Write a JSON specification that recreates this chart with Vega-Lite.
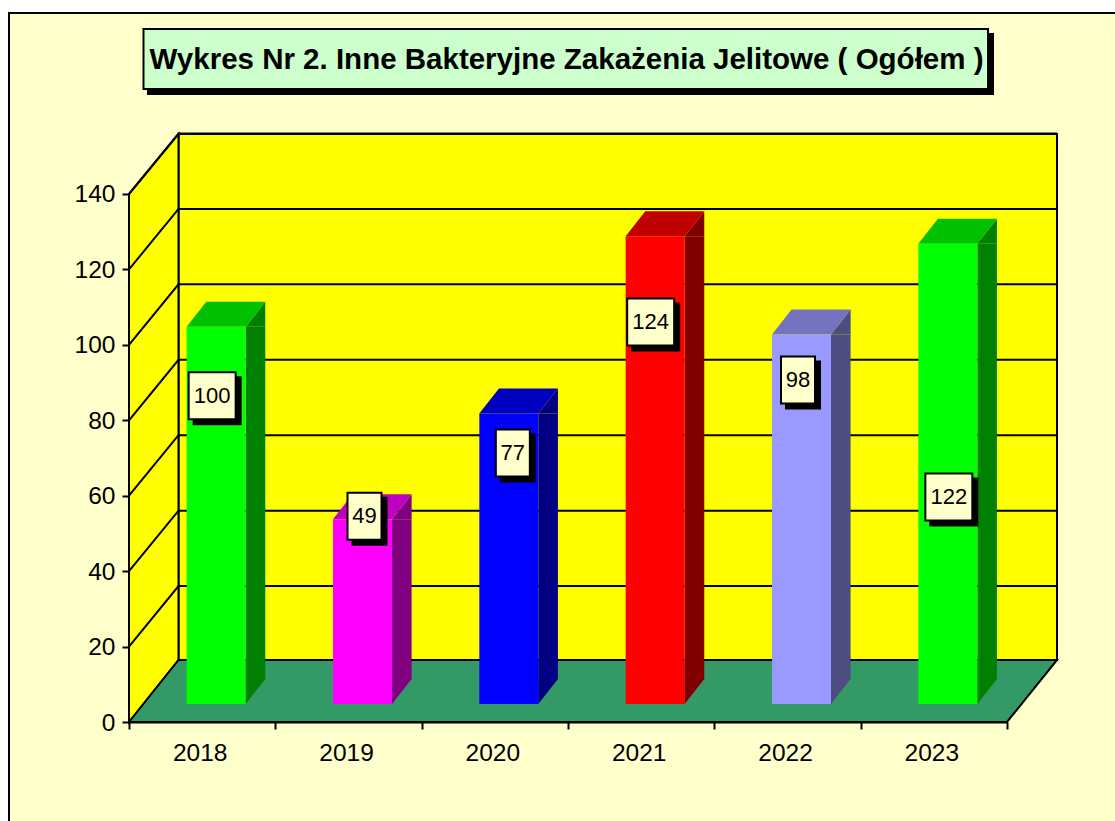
{
  "$schema": "https://vega.github.io/schema/vega-lite/v6.json",
  "width": 928,
  "height": 588,
  "autosize": {"type": "none"},
  "padding": {"left": 129, "top": 134, "right": 58, "bottom": 99},
  "background": "white",
  "config": {
    "view": {"stroke": null},
    "axis": {"labelFont": "Liberation Sans", "labelColor": "black", "tickColor": "black", "domainColor": "black", "tickWidth": 2, "domainWidth": 2, "tickSize": 7, "labelPadding": 7, "grid": false}
  },
  "datasets": {
    "frame": [{"part": "frame"}],
    "ticks": [{"tick": 20}, {"tick": 40}, {"tick": 60}, {"tick": 80}, {"tick": 100}, {"tick": 120}, {"tick": 140}],
    "bars": [
      {"year": "2018", "value": 100},
      {"year": "2019", "value": 49},
      {"year": "2020", "value": 77},
      {"year": "2021", "value": 124},
      {"year": "2022", "value": 98},
      {"year": "2023", "value": 122}
    ]
  },
  "resolve": {"scale": {"color": "independent"}},
  "layer": [
    {
      "data": {"name": "frame"},
      "mark": {"type": "point", "shape": "M-120,-709H1000V110H-120Z", "size": 4, "filled": true, "fill": "#FFFFCC", "stroke": "black", "strokeWidth": 2, "opacity": 1},
      "encoding": {
        "x": {"datum": "2018", "type": "ordinal", "bandPosition": 0, "scale": {"domain": ["2018", "2019", "2020", "2021", "2022", "2023"], "range": [0, 878], "paddingInner": 0, "paddingOuter": 0}, "axis": {"title": null, "labelAngle": 0, "labelFontSize": 24.5, "tickBand": "extent", "labelPadding": 12, "labelOffset": -2.5, "zindex": 1}},
        "y": {"datum": 0, "type": "quantitative", "scale": {"domain": [0, 155.9], "nice": false}, "axis": {"title": null, "values": [0, 20, 40, 60, 80, 100, 120, 140], "labelFontSize": 24.5, "labelOffset": 1, "domain": false, "zindex": 1}}
      }
    },
    {
      "data": {"name": "frame"},
      "mark": {"type": "point", "shape": "M18,-689H865V-627H18Z", "size": 4, "filled": true, "fill": "black", "stroke": null, "opacity": 1},
      "encoding": {
        "x": {"datum": "2018", "type": "ordinal", "bandPosition": 0},
        "y": {"datum": 0, "type": "quantitative"}
      }
    },
    {
      "data": {"name": "frame"},
      "mark": {"type": "point", "shape": "M14.5,-693H859V-633H14.5Z", "size": 4, "filled": true, "fill": "#CCFFCC", "stroke": "black", "strokeWidth": 2, "opacity": 1},
      "encoding": {
        "x": {"datum": "2018", "type": "ordinal", "bandPosition": 0},
        "y": {"datum": 0, "type": "quantitative"}
      }
    },
    {
      "data": {"name": "frame"},
      "mark": {"type": "text", "text": "Wykres Nr 2. Inne Bakteryjne Zakażenia Jelitowe ( Ogółem )", "font": "Liberation Sans", "fontWeight": "bold", "fontSize": 29.5, "color": "black", "align": "center", "baseline": "middle", "xOffset": 437.5, "yOffset": -662},
      "encoding": {
        "x": {"datum": "2018", "type": "ordinal", "bandPosition": 0},
        "y": {"datum": 0, "type": "quantitative"}
      }
    },
    {
      "data": {"name": "frame"},
      "mark": {"type": "point", "shape": "M49.5,-588H928V-62H49.5Z", "size": 4, "filled": true, "fill": "#FFFF00", "stroke": "black", "strokeWidth": 2, "opacity": 1},
      "encoding": {
        "x": {"datum": "2018", "type": "ordinal", "bandPosition": 0},
        "y": {"datum": 0, "type": "quantitative"}
      }
    },
    {
      "data": {"name": "frame"},
      "mark": {"type": "point", "shape": "M0,0L49.5,-62V-588L0,-528Z", "size": 4, "filled": true, "fill": "#FFFF00", "stroke": "black", "strokeWidth": 2, "opacity": 1},
      "encoding": {
        "x": {"datum": "2018", "type": "ordinal", "bandPosition": 0},
        "y": {"datum": 0, "type": "quantitative"}
      }
    },
    {
      "data": {"name": "ticks"},
      "mark": {"type": "point", "shape": "M0,0L49.5,-60.5H928", "size": 4, "filled": false, "fill": null, "stroke": "black", "strokeWidth": 2, "opacity": 1},
      "encoding": {
        "x": {"datum": "2018", "type": "ordinal", "bandPosition": 0},
        "y": {"field": "tick", "type": "quantitative"}
      }
    },
    {
      "data": {"name": "frame"},
      "mark": {"type": "point", "shape": "M0,0L49.5,-62H928L878,0Z", "size": 4, "filled": true, "fill": "#339966", "stroke": "black", "strokeWidth": 2, "opacity": 1},
      "encoding": {
        "x": {"datum": "2018", "type": "ordinal", "bandPosition": 0},
        "y": {"datum": 0, "type": "quantitative"}
      }
    },
    {
      "data": {"name": "bars"},
      "mark": {"type": "point", "shape": "M43.5,-18L63.1,-43H43.5Z", "size": 4, "filled": true, "stroke": null, "opacity": 1},
      "encoding": {
        "x": {"field": "year", "type": "ordinal"},
        "y": {"datum": 0, "type": "quantitative"},
        "color": {"field": "year", "type": "nominal", "legend": null, "scale": {"range": ["#008000", "#800080", "#000080", "#800000", "#4D4D80", "#008000"]}}
      }
    },
    {
      "data": {"name": "bars"},
      "mark": {"type": "bar", "width": 19.6, "xOffset": 53.3, "yOffset": -18, "y2Offset": -43, "opacity": 1},
      "encoding": {
        "x": {"field": "year", "type": "ordinal"},
        "y": {"field": "value", "type": "quantitative"},
        "y2": {"datum": 0},
        "color": {"field": "year", "type": "nominal", "legend": null, "scale": {"range": ["#008000", "#800080", "#000080", "#800000", "#4D4D80", "#008000"]}}
      }
    },
    {
      "data": {"name": "bars"},
      "mark": {"type": "point", "shape": "M43.5,-18L63.1,-43V-18Z", "size": 4, "filled": true, "stroke": null, "opacity": 1},
      "encoding": {
        "x": {"field": "year", "type": "ordinal"},
        "y": {"field": "value", "type": "quantitative"},
        "color": {"field": "year", "type": "nominal", "legend": null, "scale": {"range": ["#008000", "#800080", "#000080", "#800000", "#4D4D80", "#008000"]}}
      }
    },
    {
      "data": {"name": "bars"},
      "mark": {"type": "point", "shape": "M-15.5,-18L43.5,-18L63.1,-43L4.1,-43Z", "size": 4, "filled": true, "stroke": null, "opacity": 1},
      "encoding": {
        "x": {"field": "year", "type": "ordinal"},
        "y": {"field": "value", "type": "quantitative"},
        "color": {"field": "year", "type": "nominal", "legend": null, "scale": {"range": ["#00C000", "#C000C0", "#0000C0", "#C00000", "#7373C0", "#00C000"]}}
      }
    },
    {
      "data": {"name": "bars"},
      "mark": {"type": "bar", "width": 59, "xOffset": 14, "yOffset": -18, "y2Offset": -18, "opacity": 1},
      "encoding": {
        "x": {"field": "year", "type": "ordinal"},
        "y": {"field": "value", "type": "quantitative"},
        "y2": {"datum": 0},
        "color": {"field": "year", "type": "nominal", "legend": null, "scale": {"range": ["#00FF00", "#FF00FF", "#0000FF", "#FF0000", "#9999FF", "#00FF00"]}}
      }
    },
    {
      "data": {"name": "bars"},
      "transform": [{"filter": "datum.year === '2018'"}],
      "encoding": {"x": {"field": "year", "type": "ordinal"}, "y": {"field": "value", "type": "quantitative"}, "text": {"field": "value", "type": "quantitative"}},
      "layer": [
        {"mark": {"type": "point", "shape": "M-19.5,-19.5H29.5V29.5H-19.5Z", "size": 4, "filled": true, "fill": "black", "stroke": null, "opacity": 1, "xOffset": 10, "yOffset": 51}},
        {"mark": {"type": "point", "shape": "M-23.5,-23.5H23.5V23.5H-23.5Z", "size": 4, "filled": true, "fill": "#FFFFCC", "stroke": "black", "strokeWidth": 2, "opacity": 1, "xOffset": 10, "yOffset": 51}},
        {"mark": {"type": "text", "font": "Liberation Sans", "fontSize": 22, "color": "black", "baseline": "middle", "align": "center", "xOffset": 10, "yOffset": 51}}
      ]
    },
    {
      "data": {"name": "bars"},
      "transform": [{"filter": "datum.year === '2019'"}],
      "encoding": {"x": {"field": "year", "type": "ordinal"}, "y": {"field": "value", "type": "quantitative"}, "text": {"field": "value", "type": "quantitative"}},
      "layer": [
        {"mark": {"type": "point", "shape": "M-13,-19.5H23V29.5H-13Z", "size": 4, "filled": true, "fill": "black", "stroke": null, "opacity": 1, "xOffset": 16, "yOffset": -21}},
        {"mark": {"type": "point", "shape": "M-17,-23.5H17V23.5H-17Z", "size": 4, "filled": true, "fill": "#FFFFCC", "stroke": "black", "strokeWidth": 2, "opacity": 1, "xOffset": 16, "yOffset": -21}},
        {"mark": {"type": "text", "font": "Liberation Sans", "fontSize": 22, "color": "black", "baseline": "middle", "align": "center", "xOffset": 16, "yOffset": -21}}
      ]
    },
    {
      "data": {"name": "bars"},
      "transform": [{"filter": "datum.year === '2020'"}],
      "encoding": {"x": {"field": "year", "type": "ordinal"}, "y": {"field": "value", "type": "quantitative"}, "text": {"field": "value", "type": "quantitative"}},
      "layer": [
        {"mark": {"type": "point", "shape": "M-13,-19.5H23V29.5H-13Z", "size": 4, "filled": true, "fill": "black", "stroke": null, "opacity": 1, "xOffset": 18, "yOffset": 21.4}},
        {"mark": {"type": "point", "shape": "M-17,-23.5H17V23.5H-17Z", "size": 4, "filled": true, "fill": "#FFFFCC", "stroke": "black", "strokeWidth": 2, "opacity": 1, "xOffset": 18, "yOffset": 21.4}},
        {"mark": {"type": "text", "font": "Liberation Sans", "fontSize": 22, "color": "black", "baseline": "middle", "align": "center", "xOffset": 18, "yOffset": 21.4}}
      ]
    },
    {
      "data": {"name": "bars"},
      "transform": [{"filter": "datum.year === '2021'"}],
      "encoding": {"x": {"field": "year", "type": "ordinal"}, "y": {"field": "value", "type": "quantitative"}, "text": {"field": "value", "type": "quantitative"}},
      "layer": [
        {"mark": {"type": "point", "shape": "M-19.5,-19.5H29.5V29.5H-19.5Z", "size": 4, "filled": true, "fill": "black", "stroke": null, "opacity": 1, "xOffset": 9.5, "yOffset": 67.6}},
        {"mark": {"type": "point", "shape": "M-23.5,-23.5H23.5V23.5H-23.5Z", "size": 4, "filled": true, "fill": "#FFFFCC", "stroke": "black", "strokeWidth": 2, "opacity": 1, "xOffset": 9.5, "yOffset": 67.6}},
        {"mark": {"type": "text", "font": "Liberation Sans", "fontSize": 22, "color": "black", "baseline": "middle", "align": "center", "xOffset": 9.5, "yOffset": 67.6}}
      ]
    },
    {
      "data": {"name": "bars"},
      "transform": [{"filter": "datum.year === '2022'"}],
      "encoding": {"x": {"field": "year", "type": "ordinal"}, "y": {"field": "value", "type": "quantitative"}, "text": {"field": "value", "type": "quantitative"}},
      "layer": [
        {"mark": {"type": "point", "shape": "M-13,-19.5H23V29.5H-13Z", "size": 4, "filled": true, "fill": "black", "stroke": null, "opacity": 1, "xOffset": 10.5, "yOffset": 27.6}},
        {"mark": {"type": "point", "shape": "M-17,-23.5H17V23.5H-17Z", "size": 4, "filled": true, "fill": "#FFFFCC", "stroke": "black", "strokeWidth": 2, "opacity": 1, "xOffset": 10.5, "yOffset": 27.6}},
        {"mark": {"type": "text", "font": "Liberation Sans", "fontSize": 22, "color": "black", "baseline": "middle", "align": "center", "xOffset": 10.5, "yOffset": 27.6}}
      ]
    },
    {
      "data": {"name": "bars"},
      "transform": [{"filter": "datum.year === '2023'"}],
      "encoding": {"x": {"field": "year", "type": "ordinal"}, "y": {"field": "value", "type": "quantitative"}, "text": {"field": "value", "type": "quantitative"}},
      "layer": [
        {"mark": {"type": "point", "shape": "M-19.5,-19.5H29.5V29.5H-19.5Z", "size": 4, "filled": true, "fill": "black", "stroke": null, "opacity": 1, "xOffset": 15, "yOffset": 235.1}},
        {"mark": {"type": "point", "shape": "M-23.5,-23.5H23.5V23.5H-23.5Z", "size": 4, "filled": true, "fill": "#FFFFCC", "stroke": "black", "strokeWidth": 2, "opacity": 1, "xOffset": 15, "yOffset": 235.1}},
        {"mark": {"type": "text", "font": "Liberation Sans", "fontSize": 22, "color": "black", "baseline": "middle", "align": "center", "xOffset": 15, "yOffset": 235.1}}
      ]
    }
  ]
}
